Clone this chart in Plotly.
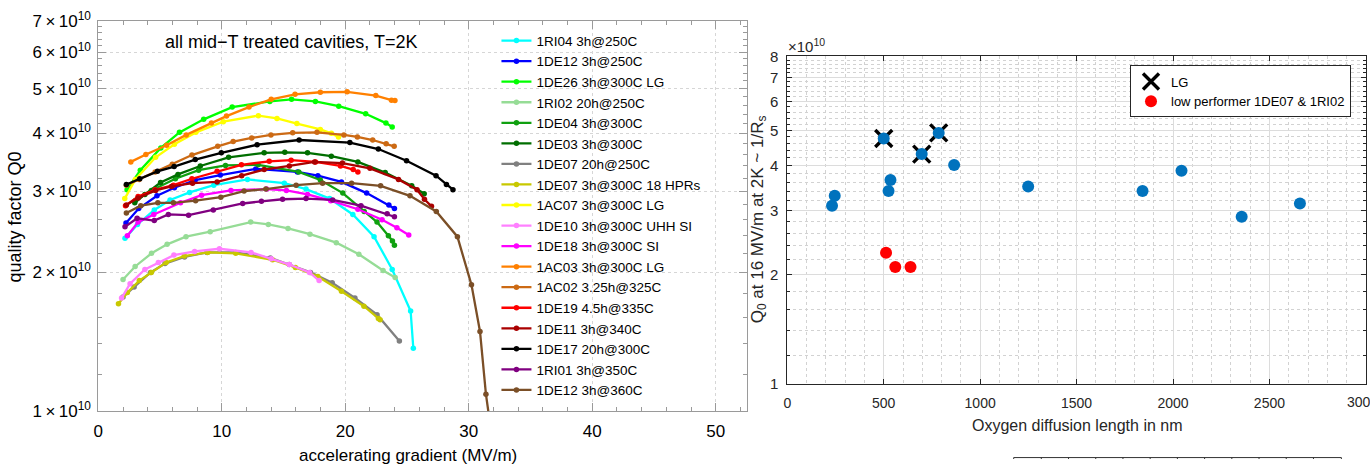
import plotly.graph_objects as go

W, H = 1370, 469
FONT = "Liberation Sans, Arial, sans-serif"

# ---------------- Left chart: Q0 vs accelerating gradient (Q0 in units of 1e10) -------------
E_1RI04 = [2.16, 3.17, 4.53, 5.81, 7.39, 9.35, 12.08, 15.06, 16.82, 18.73, 20.61, 22.33, 23.80, 25.29, 25.51]
Q_1RI04 = [2.37, 2.54, 2.73, 2.87, 2.98, 3.09, 3.18, 3.12, 3.03, 2.89, 2.67, 2.39, 2.03, 1.65, 1.37]

E_1DE12a = [2.24, 3.27, 4.75, 6.16, 7.85, 9.88, 12.75, 16.12, 17.78, 19.69, 21.73, 23.53, 23.98]
Q_1DE12a = [2.56, 2.75, 2.93, 3.05, 3.17, 3.25, 3.35, 3.30, 3.24, 3.14, 2.97, 2.80, 2.75]

E_1DE26 = [2.33, 3.40, 5.06, 6.57, 8.53, 10.84, 13.89, 15.65, 17.58, 19.47, 21.65, 23.29, 23.80]
Q_1DE26 = [3.02, 3.33, 3.72, 4.02, 4.29, 4.56, 4.69, 4.74, 4.69, 4.58, 4.41, 4.21, 4.13]

E_1RI02 = [2.00, 2.98, 4.31, 5.57, 7.10, 9.06, 12.34, 13.77, 15.36, 17.14, 19.27, 21.10, 23.06, 24.04]
Q_1RI02 = [1.93, 2.06, 2.20, 2.30, 2.39, 2.45, 2.57, 2.54, 2.49, 2.42, 2.32, 2.19, 2.02, 1.95]

E_1DE04 = [2.98, 4.29, 6.24, 8.12, 10.30, 12.94, 16.23, 17.98, 19.80, 21.53, 22.57, 23.49, 23.82, 23.98]
Q_1DE04 = [2.86, 3.01, 3.19, 3.33, 3.41, 3.42, 3.30, 3.17, 2.97, 2.71, 2.57, 2.40, 2.34, 2.29]

E_1DE03 = [2.95, 3.77, 5.04, 6.45, 8.26, 10.55, 13.43, 15.10, 16.94, 18.87, 21.02, 23.23, 25.38, 26.39]
Q_1DE03 = [2.83, 2.95, 3.13, 3.26, 3.40, 3.55, 3.63, 3.64, 3.63, 3.57, 3.47, 3.29, 3.08, 2.96]

E_1DE07a = [2.00, 2.90, 4.23, 5.40, 6.98, 8.80, 11.12, 13.93, 15.47, 17.18, 18.94, 20.78, 22.57, 24.38]
Q_1DE07a = [1.77, 1.86, 2.00, 2.09, 2.16, 2.21, 2.21, 2.15, 2.08, 2.00, 1.90, 1.76, 1.62, 1.42]

E_1DE07b = [1.63, 2.35, 3.32, 4.29, 5.49, 6.96, 8.86, 11.13, 14.11, 15.96, 17.78, 19.69, 21.51, 22.68, 22.82]
Q_1DE07b = [1.71, 1.81, 1.92, 2.00, 2.10, 2.17, 2.21, 2.20, 2.13, 2.05, 1.96, 1.82, 1.69, 1.59, 1.58]

E_1AC07 = [2.14, 3.00, 4.64, 6.16, 7.90, 10.12, 12.96, 14.47, 16.08, 17.98, 18.87, 19.45]
Q_1AC07 = [2.89, 3.18, 3.55, 3.79, 4.02, 4.24, 4.37, 4.31, 4.20, 4.08, 4.00, 3.93]

E_1DE10 = [1.88, 2.57, 3.77, 4.86, 6.12, 7.80, 9.81, 12.37, 14.00, 15.47, 17.10, 17.88]
Q_1DE10 = [1.76, 1.89, 2.03, 2.10, 2.18, 2.22, 2.25, 2.21, 2.14, 2.08, 2.00, 1.92]

E_1DE18 = [2.35, 3.22, 4.49, 6.66, 8.36, 10.74, 13.62, 15.23, 16.94, 18.82, 21.02, 22.98, 24.18, 25.14]
Q_1DE18 = [2.40, 2.57, 2.67, 2.83, 2.94, 3.01, 3.03, 3.01, 2.95, 2.86, 2.74, 2.60, 2.50, 2.41]

E_1AC03 = [2.63, 3.85, 5.53, 7.12, 9.16, 10.38, 12.20, 14.00, 15.93, 17.98, 20.15, 22.47, 23.74, 24.02]
Q_1AC03 = [3.47, 3.60, 3.77, 3.97, 4.21, 4.36, 4.56, 4.74, 4.86, 4.91, 4.92, 4.83, 4.72, 4.71]

E_1AC02 = [2.27, 3.31, 4.60, 5.99, 7.58, 9.67, 10.92, 12.42, 13.98, 15.74, 17.71, 19.88, 20.98, 22.22, 23.31, 23.96]
Q_1AC02 = [3.09, 3.18, 3.30, 3.43, 3.59, 3.75, 3.84, 3.91, 3.97, 4.01, 4.02, 3.97, 3.93, 3.87, 3.80, 3.75]

E_1DE19 = [2.20, 3.22, 4.59, 6.08, 7.58, 9.62, 11.59, 13.84, 15.61, 17.59, 19.61, 20.64, 21.02]
Q_1DE19 = [2.79, 2.92, 3.02, 3.09, 3.19, 3.31, 3.42, 3.48, 3.50, 3.47, 3.40, 3.34, 3.30]

E_1DE11 = [2.27, 3.22, 4.64, 5.92, 7.63, 9.62, 11.61, 13.43, 15.47, 17.51, 19.77, 22.00, 24.31, 25.81, 26.41, 26.98]
Q_1DE11 = [2.80, 2.90, 3.01, 3.07, 3.12, 3.14, 3.24, 3.34, 3.40, 3.47, 3.45, 3.36, 3.18, 3.02, 2.88, 2.78]

E_1DE17 = [2.27, 3.36, 4.79, 6.14, 7.85, 9.96, 12.86, 16.26, 20.37, 22.68, 24.96, 27.35, 28.19, 28.72]
Q_1DE17 = [3.10, 3.19, 3.31, 3.39, 3.51, 3.63, 3.78, 3.87, 3.82, 3.70, 3.49, 3.24, 3.10, 3.02]

E_1RI01 = [2.16, 3.14, 4.53, 5.67, 7.31, 9.31, 11.69, 13.21, 14.92, 16.82, 18.98, 21.27, 23.39, 23.98]
Q_1RI01 = [2.51, 2.62, 2.59, 2.67, 2.66, 2.73, 2.82, 2.85, 2.88, 2.89, 2.87, 2.79, 2.68, 2.64]

E_1DE12b = [2.27, 3.44, 4.82, 6.08, 7.88, 9.92, 11.80, 13.57, 16.02, 18.16, 20.51, 22.86, 25.24, 27.37, 29.08, 30.22, 30.91, 31.39, 31.75]
Q_1DE12b = [2.69, 2.79, 2.83, 2.83, 2.86, 2.91, 3.00, 3.03, 3.09, 3.12, 3.12, 3.08, 2.93, 2.71, 2.39, 1.88, 1.49, 1.09, 0.93]

series = [
    ("1RI04 3h@250C", "#00FFFF", E_1RI04, Q_1RI04),
    ("1DE12 3h@250C", "#0000FF", E_1DE12a, Q_1DE12a),
    ("1DE26 3h@300C LG", "#00FF00", E_1DE26, Q_1DE26),
    ("1RI02 20h@250C", "#96DC96", E_1RI02, Q_1RI02),
    ("1DE04 3h@300C", "#10A010", E_1DE04, Q_1DE04),
    ("1DE03 3h@300C", "#006E00", E_1DE03, Q_1DE03),
    ("1DE07 20h@250C", "#808080", E_1DE07a, Q_1DE07a),
    ("1DE07 3h@300C 18 HPRs", "#C8C800", E_1DE07b, Q_1DE07b),
    ("1AC07 3h@300C LG", "#FFFF00", E_1AC07, Q_1AC07),
    ("1DE10 3h@300C UHH SI", "#FF80FF", E_1DE10, Q_1DE10),
    ("1DE18 3h@300C SI", "#FF00FF", E_1DE18, Q_1DE18),
    ("1AC03 3h@300C LG", "#FF8000", E_1AC03, Q_1AC03),
    ("1AC02 3.25h@325C", "#CC6A14", E_1AC02, Q_1AC02),
    ("1DE19 4.5h@335C", "#FF0000", E_1DE19, Q_1DE19),
    ("1DE11 3h@340C", "#AA0000", E_1DE11, Q_1DE11),
    ("1DE17 20h@300C", "#000000", E_1DE17, Q_1DE17),
    ("1RI01 3h@350C", "#800080", E_1RI01, Q_1RI01),
    ("1DE12 3h@360C", "#7B4F27", E_1DE12b, Q_1DE12b),
]

left_yticks = [1, 2, 3, 4, 5, 6, 7]
left_yticktext = ["%d\u2009×\u200910<sup>10</sup>" % v for v in left_yticks]
left_xticks = [0, 10, 20, 30, 40, 50]

# ---------------- Right chart: Q0 at 16 MV/m vs oxygen diffusion length -------------
blue_nm = [232, 246, 500, 525, 535, 697, 785, 865, 1249, 1842, 2044, 2356, 2658]
blue_q = [3.10, 3.30, 4.75, 3.40, 3.65, 4.30, 4.92, 4.01, 3.50, 3.40, 3.87, 2.89, 3.14]
lg_nm = [500, 697, 785]
lg_q = [4.75, 4.30, 4.92]
low_nm = [512, 560, 639]
low_q = [2.30, 2.10, 2.10]
right_yticks = [1, 2, 3, 4, 5, 6, 7, 8]
right_xticks = [0, 500, 1000, 1500, 2000, 2500]

# ---------------- layout geometry ----------------
# Target positions are given in screenshot pixels; the page shows the figure inside an
# 8px body margin and the whole page is fitted into the 1370x469 picture.
M = 8
SX = W / (W + 2 * M)
SY = H / (H + 2 * M)


def fx(X):
    return X / SX - M


def fy(Y):
    return Y / SY - M


def px(X):
    return fx(X) / W


def py(Y):
    return 1 - fy(Y) / H


XMAX = 52.5
L_x0, L_x1 = 100.5, 100.5 + 12.25 * XMAX
L_top, L_bot = 17, 413
R_x0, R_x1 = 784, 1358
R_top, R_bot = 52.7, 385

fig = go.Figure()

for name, col, E, Q in series:
    fig.add_trace(go.Scatter(
        x=E, y=[q * 1e10 for q in Q], mode="lines+markers", name=name,
        line=dict(color=col, width=2.3), marker=dict(color=col, size=5.5),
        xaxis="x", yaxis="y", legend="legend", legendgroup=name,
    ))

fig.add_trace(go.Scatter(
    x=lg_nm, y=[q * 1e10 for q in lg_q], mode="markers", name="LG",
    marker=dict(symbol="x-thin", size=17, color="black", line=dict(color="black", width=3.4)),
    xaxis="x2", yaxis="y2", legend="legend2",
))
fig.add_trace(go.Scatter(
    x=blue_nm, y=[q * 1e10 for q in blue_q], mode="markers", name="all",
    marker=dict(symbol="circle", size=12, color="#0072BD"),
    xaxis="x2", yaxis="y2", showlegend=False,
))
fig.add_trace(go.Scatter(
    x=low_nm, y=[q * 1e10 for q in low_q], mode="markers", name="low performer 1DE07 & 1RI02",
    marker=dict(symbol="circle", size=12, color="#FF0000"),
    xaxis="x2", yaxis="y2", legend="legend2",
))

left_minor_y = [round(v * 0.2, 1) * 1e10 for v in range(5, 36) if v % 5 != 0]
right_minor_y = [round(v * 0.2, 1) * 1e10 for v in range(5, 41) if v % 5 != 0]

FRAME_L = "#9a9a9a"
FRAME_R = "#262626"

fig.update_layout(
    width=W, height=H,
    margin=dict(l=0, r=0, t=0, b=0),
    paper_bgcolor="white", plot_bgcolor="white",
    font=dict(family=FONT, color="black"),
    xaxis=dict(
        domain=[px(L_x0), px(L_x1)], range=[0, XMAX], anchor="y",
        tickmode="array", tickvals=left_xticks, ticks="inside", ticklen=8, tickcolor=FRAME_L,
        showline=True, linecolor=FRAME_L, linewidth=1, mirror="ticks",
        showgrid=True, gridcolor="#d6d6d6", griddash="dot", gridwidth=1,
        minor=dict(tickmode="linear", tick0=0, dtick=2, ticks="inside", ticklen=4,
                   tickcolor=FRAME_L, showgrid=False),
        tickfont=dict(size=17, color="black"), ticklabelstandoff=4,
        zeroline=False,
    ),
    yaxis=dict(
        domain=[py(L_bot), py(L_top)], type="log", range=[10, 10.845098], anchor="x",
        tickmode="array", tickvals=[v * 1e10 for v in left_yticks], ticktext=left_yticktext,
        ticks="inside", ticklen=8, tickcolor=FRAME_L,
        showline=True, linecolor=FRAME_L, linewidth=1, mirror="ticks",
        showgrid=True, gridcolor="#d6d6d6", griddash="dot", gridwidth=1,
        minor=dict(tickmode="array", tickvals=left_minor_y, ticks="inside", ticklen=4,
                   tickcolor=FRAME_L, showgrid=False),
        tickfont=dict(size=17, color="black"), ticklabelstandoff=3,
        zeroline=False,
    ),
    xaxis2=dict(
        domain=[px(R_x0), px(R_x1)], range=[0, 3000], anchor="y2",
        tickmode="array", tickvals=right_xticks, ticks="inside", ticklen=5, tickcolor=FRAME_R,
        showline=True, linecolor=FRAME_R, linewidth=1, mirror="ticks",
        showgrid=True, gridcolor="#dcdcdc", gridwidth=1,
        minor=dict(tickmode="linear", tick0=0, dtick=100, ticks="", showgrid=True,
                   gridcolor="#d2d2d2", griddash="dot", gridwidth=1),
        tickfont=dict(size=14, color="#262626"), ticklabelstandoff=6,
        zeroline=False,
    ),
    yaxis2=dict(
        domain=[py(R_bot), py(R_top)], type="log", range=[10, 10.90309], anchor="x2",
        tickmode="array", tickvals=[v * 1e10 for v in right_yticks],
        ticktext=[str(v) for v in right_yticks],
        ticks="inside", ticklen=5, tickcolor=FRAME_R,
        showline=True, linecolor=FRAME_R, linewidth=1, mirror="ticks",
        showgrid=True, gridcolor="#dcdcdc", gridwidth=1,
        minor=dict(tickmode="array", tickvals=right_minor_y, ticks="inside", ticklen=3,
                   tickcolor=FRAME_R, showgrid=True, gridcolor="#d2d2d2", griddash="dot", gridwidth=1),
        tickfont=dict(size=15, color="#262626"), ticklabelstandoff=5,
        zeroline=False,
    ),
    legend=dict(
        x=fx(535) / W - 40 / W, y=1 - 14 / H, xanchor="left", yanchor="top",
        font=dict(size=13.5, family=FONT, color="black"), bgcolor="rgba(0,0,0,0)",
        borderwidth=0, itemwidth=30, tracegroupgap=0, traceorder="normal",
    ),
    legend2=dict(
        x=px(1124), y=py(62), xanchor="left", yanchor="top",
        font=dict(size=13, family=FONT, color="black"), bgcolor="white",
        bordercolor=FRAME_R, borderwidth=1, itemwidth=30, traceorder="normal",
    ),
    showlegend=True,
)

annotations = [
    dict(text="all mid\u2212T treated cavities, T=2K", x=px(292), y=py(38), xref="paper", yref="paper",
         showarrow=False, font=dict(size=18, family=FONT, color="black"), xanchor="center", yanchor="middle"),
    dict(text="accelerating gradient (MV/m)", x=px(408), y=py(458), xref="paper", yref="paper",
         showarrow=False, font=dict(size=17, family=FONT, color="black"), xanchor="center", yanchor="middle"),
    dict(text="quality factor Q0", x=px(18), y=py(216), xref="paper", yref="paper", textangle=-90,
         showarrow=False, font=dict(size=18, family=FONT, color="black"), xanchor="center", yanchor="middle"),
    dict(text="Oxygen diffusion length in nm", x=px(1072), y=py(427), xref="paper", yref="paper",
         showarrow=False, font=dict(size=16, family=FONT, color="#262626"), xanchor="center", yanchor="middle"),
    dict(text="Q<sub>0</sub> at 16 MV/m at 2K ~ 1/R<sub>s</sub>", x=px(756), y=py(218), xref="paper", yref="paper",
         textangle=-90, showarrow=False, font=dict(size=17, family=FONT, color="#262626"),
         xanchor="center", yanchor="middle"),
    dict(text="×10<sup>10</sup>", x=px(783), y=py(42), xref="paper", yref="paper",
         showarrow=False, font=dict(size=15, family=FONT, color="#262626"), xanchor="left", yanchor="middle"),
    # last x tick label of the right chart, cut by the picture edge as in the original
    dict(text="3000", x=px(1355), y=py(403), xref="paper", yref="paper",
         showarrow=False, font=dict(size=14, family=FONT, color="#262626"), xanchor="center", yanchor="middle"),
]
fig.update_layout(annotations=annotations)

# fragment of a table border visible at the bottom right edge (as low as the figure allows)
table_x = [1008.6, 1036, 1063, 1090, 1117, 1144, 1171, 1198, 1225, 1252, 1279, 1306, 1333.7]
shapes = [dict(type="line", xref="paper", yref="paper", x0=px(table_x[0]), x1=px(table_x[-1]),
               y0=1.5 / H, y1=1.5 / H, line=dict(color="#333333", width=1))]
for tx in table_x:
    shapes.append(dict(type="line", xref="paper", yref="paper", x0=px(tx), x1=px(tx),
                       y0=0, y1=1.5 / H, line=dict(color="#333333", width=1)))
fig.update_layout(shapes=shapes)

fig.write_html("out.html")
